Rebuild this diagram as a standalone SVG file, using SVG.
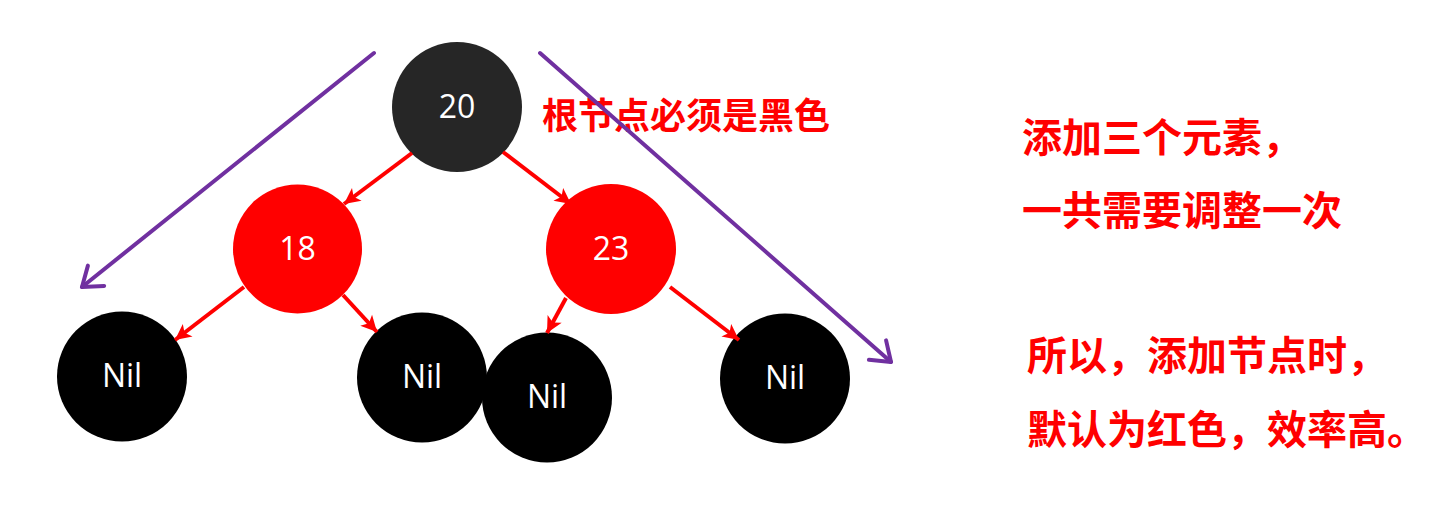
<svg xmlns="http://www.w3.org/2000/svg" width="1433" height="514" viewBox="0 0 1433 514">
<style>
.num{font-family:"Open Sans","Noto Sans","DejaVu Sans",sans-serif;font-size:32px;fill:#fff;text-anchor:middle}
.nil{font-family:"Open Sans","Noto Sans","DejaVu Sans",sans-serif;font-size:32px;fill:#fff;text-anchor:middle}
.cn{font-family:"Noto Sans CJK SC","Noto Sans",sans-serif;font-weight:bold;fill:#FF0000}
.red{stroke:#FF0000;stroke-width:4;fill:none;marker-end:url(#ra)}
.pur{stroke:#7030A0;stroke-width:4;fill:none;stroke-linecap:round;marker-end:url(#pa)}
</style>
<defs>
<marker id="ra" markerUnits="userSpaceOnUse" viewBox="-17 -9 18 18" markerWidth="18" markerHeight="18" refX="0" refY="0" orient="auto">
<path d="M-16,-8 L0,0 L-16,8 L-12,0 z" fill="#FF0000"/>
</marker>
<marker id="pa" markerUnits="userSpaceOnUse" viewBox="-24 -18 30 36" markerWidth="30" markerHeight="36" refX="0" refY="0" orient="auto">
<path d="M-18,-13 L0,0 L-18,13" fill="none" stroke="#7030A0" stroke-width="4" stroke-linecap="round" stroke-linejoin="round"/>
</marker>
</defs>
<rect width="1433" height="514" fill="#fff"/>
<g id="n20"><circle cx="457" cy="107" r="65" fill="#262626"/><text class="num" x="457" y="118">20</text></g>
<g id="n18"><circle cx="297.5" cy="249" r="64.5" fill="#FF0000"/><text class="num" x="297.5" y="260">18</text></g>
<g id="n23"><circle cx="611" cy="249" r="65" fill="#FF0000"/><text class="num" x="611" y="260">23</text></g>
<g id="nil1"><circle cx="122" cy="376.5" r="65" fill="#000"/><text class="nil" x="122" y="387">Nil</text></g>
<g id="nil2"><circle cx="422" cy="377.5" r="65" fill="#000"/><text class="nil" x="422" y="388">Nil</text></g>
<g id="nil3"><circle cx="547" cy="397.5" r="65" fill="#000"/><text class="nil" x="547" y="408">Nil</text></g>
<g id="nil4"><circle cx="785" cy="378.5" r="65" fill="#000"/><text class="nil" x="785" y="389">Nil</text></g>
<g id="notes">
<text class="cn" x="542" y="129" font-size="36">根节点必须是黑色</text>
<text class="cn" x="1022" y="152" font-size="40">添加三个元素，</text>
<text class="cn" x="1022" y="225" font-size="40">一共需要调整一次</text>
<text class="cn" x="1027" y="370" font-size="40">所以，添加节点时，</text>
<text class="cn" x="1027" y="444" font-size="40">默认为红色，效率高。</text>
</g>
<g id="connectors">
<line class="red" x1="412" y1="153" x2="344" y2="204"/>
<line class="red" x1="503" y1="152" x2="571" y2="204"/>
<line class="red" x1="244" y1="287" x2="175" y2="340"/>
<line class="red" x1="343" y1="295" x2="377" y2="332"/>
<line class="red" x1="566" y1="298" x2="547" y2="333"/>
<line class="red" x1="670" y1="287" x2="739" y2="340"/>
<line class="pur" x1="374" y1="53" x2="82" y2="287"/>
<line class="pur" x1="540" y1="53" x2="891" y2="362"/>
</g>
</svg>
